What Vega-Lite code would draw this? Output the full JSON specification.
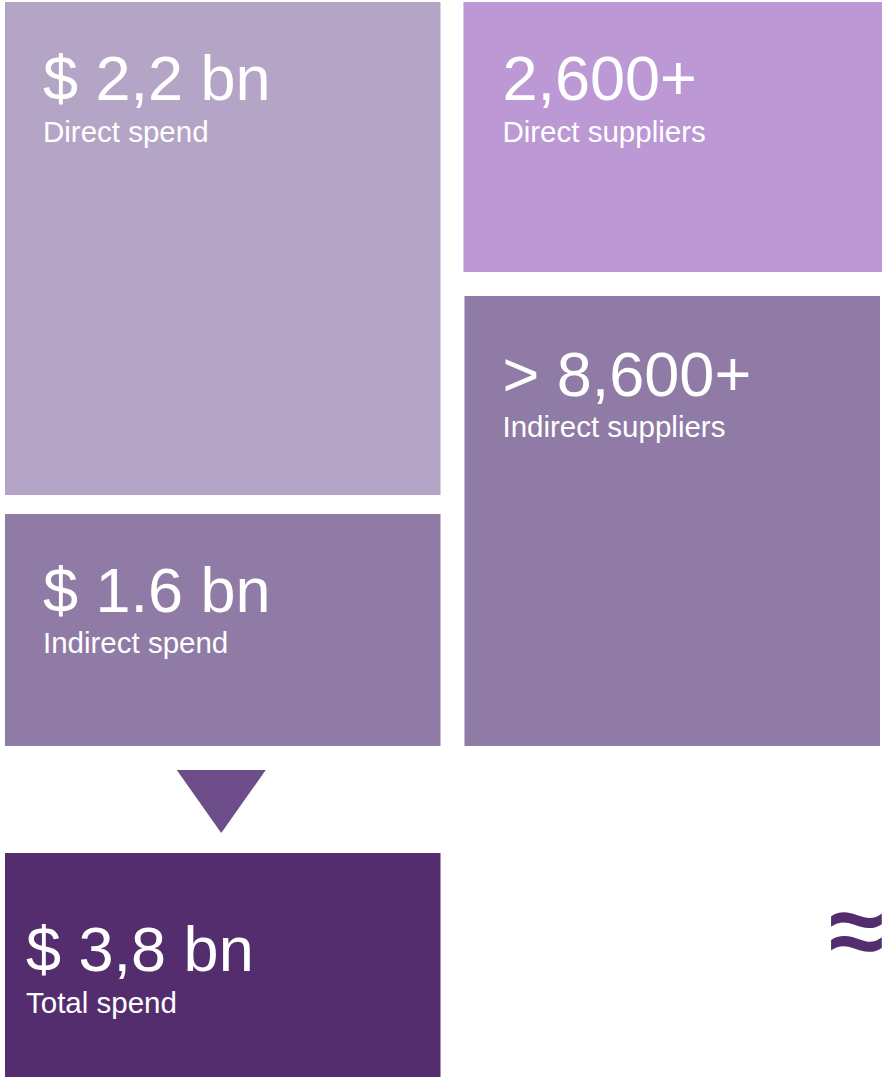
{
  "$schema": "https://vega.github.io/schema/vega-lite/v6.json",
  "width": 884,
  "height": 1077,
  "padding": 0,
  "autosize": {"type": "fit", "contains": "padding"},
  "background": "#ffffff",
  "config": {"view": {"stroke": null}, "text": {"font": "Liberation Sans"}},
  "datasets": {
    "tiles": [
      {"id": "Direct spend", "x0": 5, "x1": 441, "y0": 2, "y1": 495, "value": "$ 2,2 bn", "tx": 43, "ty": 100, "ly": 142},
      {"id": "Direct suppliers", "x0": 464, "x1": 883, "y0": 2, "y1": 272, "value": "2,600+", "tx": 503, "ty": 100, "ly": 142},
      {"id": "Indirect suppliers", "x0": 465, "x1": 881, "y0": 296, "y1": 746, "value": "> 8,600+", "tx": 503, "ty": 396, "ly": 437},
      {"id": "Indirect spend", "x0": 5, "x1": 441, "y0": 514, "y1": 746, "value": "$ 1.6 bn", "tx": 43, "ty": 612, "ly": 653},
      {"id": "Total spend", "x0": 5, "x1": 441, "y0": 853, "y1": 1077, "value": "$ 3,8 bn", "tx": 26, "ty": 971, "ly": 1013}
    ],
    "arrow": [{"x": 221.5, "y": 801.5}],
    "approx": [{"sym": "≈", "x": 830, "y": 965}]
  },
  "layer": [
    {
      "data": {"name": "tiles"},
      "mark": {"type": "rect"},
      "encoding": {
        "x": {"field": "x0", "type": "quantitative", "scale": {"domain": [0, 884], "nice": false, "zero": false}, "axis": null},
        "x2": {"field": "x1"},
        "y": {"field": "y0", "type": "quantitative", "scale": {"domain": [0, 1077], "nice": false, "zero": false, "reverse": true}, "axis": null},
        "y2": {"field": "y1"},
        "color": {
          "field": "id", "type": "nominal", "legend": null,
          "scale": {
            "domain": ["Direct spend", "Direct suppliers", "Indirect suppliers", "Indirect spend", "Total spend"],
            "range": ["#b4a5c7", "#bc98d5", "#907ba7", "#907ba7", "#532d6d"]
          }
        }
      }
    },
    {
      "data": {"name": "arrow"},
      "mark": {"type": "point", "shape": "M -1 -0.708 L 1 -0.708 L 0 0.708 Z", "filled": true, "opacity": 1, "size": 7921, "color": "#6e4e8a"},
      "encoding": {
        "x": {"field": "x", "type": "quantitative"},
        "y": {"field": "y", "type": "quantitative"}
      }
    },
    {
      "data": {"name": "tiles"},
      "mark": {"type": "text", "align": "left", "baseline": "alphabetic", "fontSize": 63, "color": "#ffffff"},
      "encoding": {
        "x": {"field": "tx", "type": "quantitative"},
        "y": {"field": "ty", "type": "quantitative"},
        "text": {"field": "value"}
      }
    },
    {
      "data": {"name": "tiles"},
      "mark": {"type": "text", "align": "left", "baseline": "alphabetic", "fontSize": 29.5, "color": "#ffffff"},
      "encoding": {
        "x": {"field": "tx", "type": "quantitative"},
        "y": {"field": "ly", "type": "quantitative"},
        "text": {"field": "id"}
      }
    },
    {
      "data": {"name": "approx"},
      "mark": {"type": "text", "align": "left", "baseline": "alphabetic", "fontSize": 100, "fontWeight": "bold", "color": "#532d6d"},
      "encoding": {
        "x": {"field": "x", "type": "quantitative"},
        "y": {"field": "y", "type": "quantitative"},
        "text": {"field": "sym"}
      }
    }
  ]
}
